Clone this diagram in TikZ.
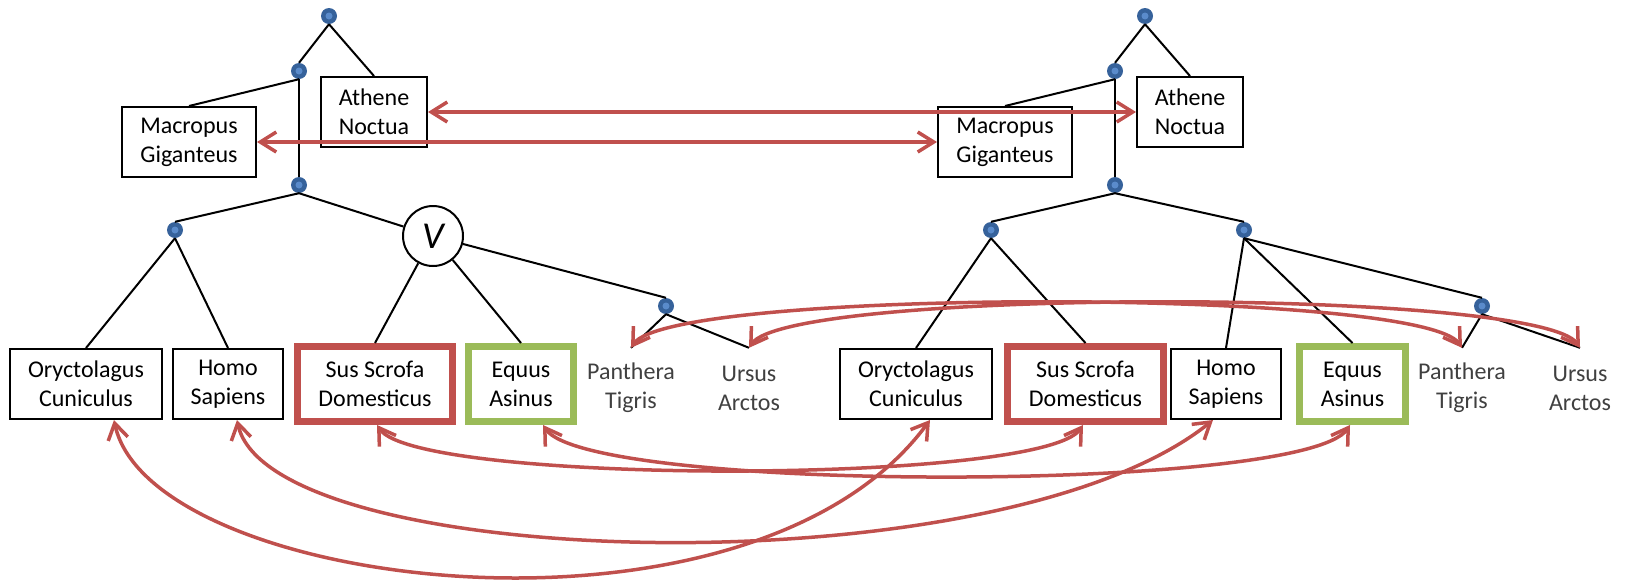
\documentclass[tikz,border=0pt]{standalone}
\usepackage{fontspec}
\setmainfont{Carlito}
\usetikzlibrary{arrows.meta}
\definecolor{redc}{HTML}{C0504D}
\definecolor{greenc}{HTML}{9BBB59}
\definecolor{dotdark}{HTML}{36629B}
\definecolor{dotlight}{HTML}{5A8BCB}
\definecolor{labelgray}{HTML}{404040}
\begin{document}
\begin{tikzpicture}[x=1pt,y=-1pt,
  tree/.style={line width=2pt, draw=black},
  dotn/.style={circle, fill=dotdark, minimum size=16pt, inner sep=0pt,
    path picture={\fill[dotlight] (path picture bounding box.center) circle[radius=3.5pt];}},
  species/.style={draw=black, line width=2pt, fill=white, align=center, inner sep=0pt,
    minimum height=70pt, font=\fontsize{24}{29}\selectfont,
    execute at begin node={\rule{0pt}{26pt}}},
  redbox/.style={species, draw=redc, line width=7pt, minimum height=75pt},
  greenbox/.style={species, draw=greenc, line width=7pt, minimum height=75pt},
  plainlbl/.style={align=center, text=labelgray, minimum height=80pt, inner sep=0pt,
    font=\fontsize{24}{29}\selectfont},
  vnode/.style={circle, draw=black, line width=2pt, fill=white, minimum size=60pt, inner sep=0pt,
    font=\fontsize{38}{38}\selectfont\itshape},
  link/.style={draw=redc, line width=3.5pt,
    {Straight Barb[length=16pt,width=20pt]}-{Straight Barb[length=16pt,width=20pt]}}
]
\useasboundingbox (0,0) rectangle (1626,587);

% ---------- left tree ----------
\node[dotn] (L1) at (329,16) {};
\node[dotn] (L2) at (299,71) {};
\node[dotn] (L3) at (299,185) {};
\node[dotn] (L4) at (175,230) {};
\node[vnode] (V) at (433,236) {V};
\node[dotn] (L5) at (666,306) {};

\node[species, minimum width=106pt] (athL) at (374,112) {Athene\\Noctua};
\node[species, minimum width=134pt] (macL) at (189,142) {Macropus\\Giganteus};
\node[species, minimum width=152pt] (oryL) at (86,384) {Oryctolagus\\Cuniculus};
\node[species, minimum width=110pt] (homL) at (228,384) {Homo\\Sapiens};
\node[redbox, minimum width=155pt] (susL) at (375,384) {Sus Scrofa\\Domesticus};
\node[greenbox, minimum width=105pt] (equL) at (521,384) {Equus\\Asinus};
\node[plainlbl] (panL) at (631,388) {Panthera\\Tigris};
\node[plainlbl] (ursL) at (749,388) {Ursus\\Arctos};

\draw[tree] (L1.south) -- (L2.north);
\draw[tree] (L1.south) -- (athL.north);
\draw[tree] (L2.south) -- (macL.north);
\draw[tree] (L2.south) -- (L3.north);
\draw[tree] (L3.south) -- (L4.north);
\draw[tree] (L3.south) -- (V);
\draw[tree] (L4.south) -- (oryL.north);
\draw[tree] (L4.south) -- (homL.north);
\draw[tree] (V) -- (susL.north);
\draw[tree] (V) -- (equL.north);
\draw[tree] (V) -- (L5.north);
\draw[tree] (L5.south) -- (panL.north);
\draw[tree] (L5.south) -- (ursL.north);

% ---------- right tree ----------
\node[dotn] (R1) at (1145,16) {};
\node[dotn] (R2) at (1115,71) {};
\node[dotn] (R3) at (1115,185) {};
\node[dotn] (R4a) at (991,230) {};
\node[dotn] (R4b) at (1244,230) {};
\node[dotn] (R5) at (1482,306) {};

\node[species, minimum width=106pt] (athR) at (1190,112) {Athene\\Noctua};
\node[species, minimum width=134pt] (macR) at (1005,142) {Macropus\\Giganteus};
\node[species, minimum width=152pt] (oryR) at (916,384) {Oryctolagus\\Cuniculus};
\node[redbox, minimum width=156pt] (susR) at (1085.5,384) {Sus Scrofa\\Domesticus};
\node[species, minimum width=110pt] (homR) at (1226,384) {Homo\\Sapiens};
\node[greenbox, minimum width=106pt] (equR) at (1352.5,384) {Equus\\Asinus};
\node[plainlbl] (panR) at (1462,388) {Panthera\\Tigris};
\node[plainlbl] (ursR) at (1580,388) {Ursus\\Arctos};

\draw[tree] (R1.south) -- (R2.north);
\draw[tree] (R1.south) -- (athR.north);
\draw[tree] (R2.south) -- (macR.north);
\draw[tree] (R2.south) -- (R3.north);
\draw[tree] (R3.south) -- (R4a.north);
\draw[tree] (R3.south) -- (R4b.north);
\draw[tree] (R4a.south) -- (oryR.north);
\draw[tree] (R4a.south) -- (susR.north);
\draw[tree] (R4b.south) -- (homR.north);
\draw[tree] (R4b.south) -- (equR.north);
\draw[tree] (R4b.south) -- (R5.north);
\draw[tree] (R5.south) -- (panR.north);
\draw[tree] (R5.south) -- (ursR.north);

% ---------- correspondences ----------
\draw[link] (athL.east) -- (athR.west);
\draw[link] (macL.east) -- (macR.west);
\draw[link] ([xshift=28pt]oryL.south) .. controls +(36,170) and +(-180,245) .. ([xshift=14pt]oryR.south);
\draw[link] ([xshift=9pt]homL.south) .. controls +(33,152) and +(-213,172) .. ([xshift=-13pt]homR.south);
\draw[link] ([xshift=2pt]susL.south) .. controls +(40,60) and +(-40,60) .. ([xshift=-2.5pt]susR.south);
\draw[link] ([xshift=22pt]equL.south) .. controls +(45,68) and +(-45,68) .. ([xshift=-2.5pt]equR.south);
\draw[link] (panL.north) .. controls +(40,-60) and +(-40,-60) .. (panR.north);
\draw[link] (ursL.north) .. controls +(40,-60) and +(-40,-60) .. (ursR.north);
\end{tikzpicture}
\end{document}
